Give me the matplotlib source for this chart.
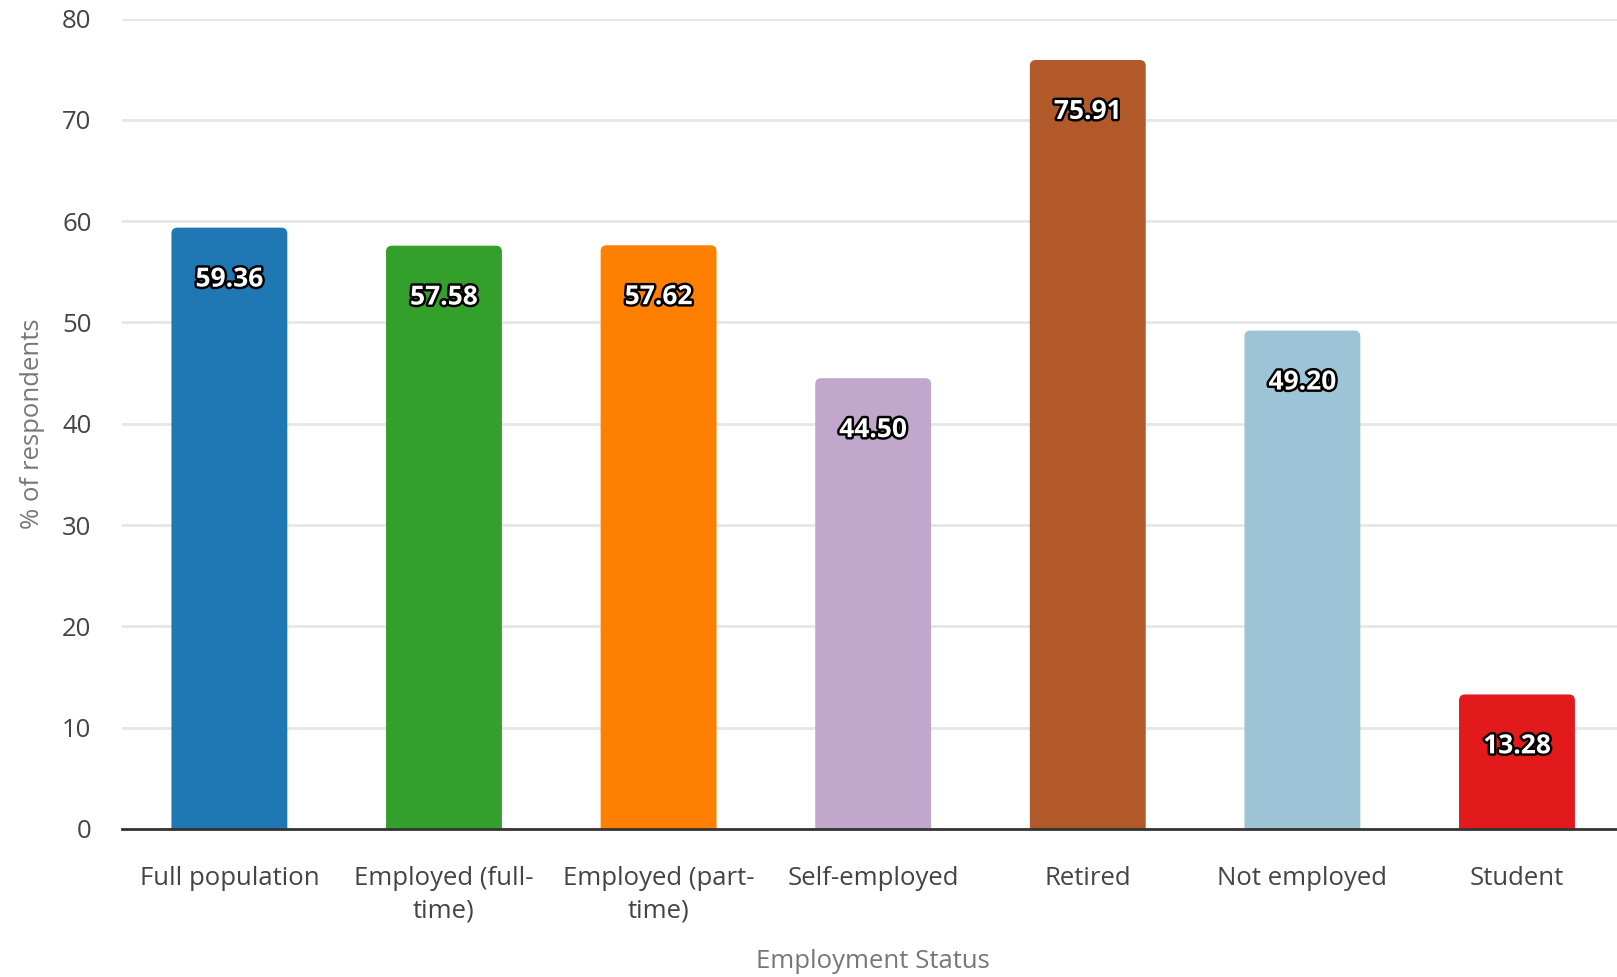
import matplotlib
matplotlib.use("Agg")
import matplotlib.pyplot as plt
from matplotlib.patches import FancyBboxPatch
import matplotlib.patheffects as pe

categories = ["Full population", "Employed (full-\ntime)", "Employed (part-\ntime)",
              "Self-employed", "Retired", "Not employed", "Student"]
values = [59.36, 57.58, 57.62, 44.50, 75.91, 49.20, 13.28]
colors = ["#1f77b4", "#33a02c", "#ff7f00", "#c1a7cb", "#b15928", "#9dc3d6", "#e31a1c"]
yticks = [0, 10, 20, 30, 40, 50, 60, 70, 80]

plt.rcParams['font.family'] = ['Open Sans', 'DejaVu Sans']

fig = plt.figure(figsize=(16.17, 9.77), dpi=100)
ax = fig.add_axes([0.0755, 0.1515, 0.929, 0.8295])

x = list(range(len(categories)))
bars = ax.bar(x, values, width=0.54, color=colors, zorder=2)
ax.set_xlim(-0.5, len(categories) - 0.5)
ax.set_ylim(0, 80)

# rounded top corners
for b, c in zip(bars, colors):
    b.set_visible(False)
    bx, by = b.get_x(), b.get_y()
    w, h = b.get_width(), b.get_height()
    p = FancyBboxPatch((bx, by - 2), w, h + 2,
                       boxstyle="round,pad=0,rounding_size=0.028",
                       mutation_aspect=21, facecolor=c, edgecolor="none",
                       zorder=2, clip_on=True)
    ax.add_patch(p)

for xi, v in zip(x, values):
    ax.annotate(f"{v:.2f}", (xi, v), xytext=(0, -37), textcoords="offset points",
                ha="center", va="center", fontsize=19, fontweight="bold",
                color="white", zorder=4,
                path_effects=[pe.withStroke(linewidth=3.5, foreground="black")])

ax.set_yticks(yticks)
ax.set_xticks(x)
ax.set_xticklabels(categories, fontsize=18.5, color="#444444", linespacing=1.38)
ax.tick_params(axis="y", labelsize=18.5, labelcolor="#444444", length=0, pad=22)
ax.tick_params(axis="x", length=0, pad=27)

ax.grid(axis="y", color="#e6e6e6", linewidth=2, zorder=0)
ax.set_axisbelow(True)
for s in ["top", "right", "left"]:
    ax.spines[s].set_visible(False)
ax.spines["bottom"].set_color("#333333")
ax.spines["bottom"].set_linewidth(2)
ax.spines["bottom"].set_zorder(3)

ax.set_xlabel("Employment Status", fontsize=18.5, color="#777777", labelpad=18)
ax.set_ylabel("% of respondents", fontsize=18.5, color="#777777", labelpad=12)

fig.savefig("out.png", dpi=100)
